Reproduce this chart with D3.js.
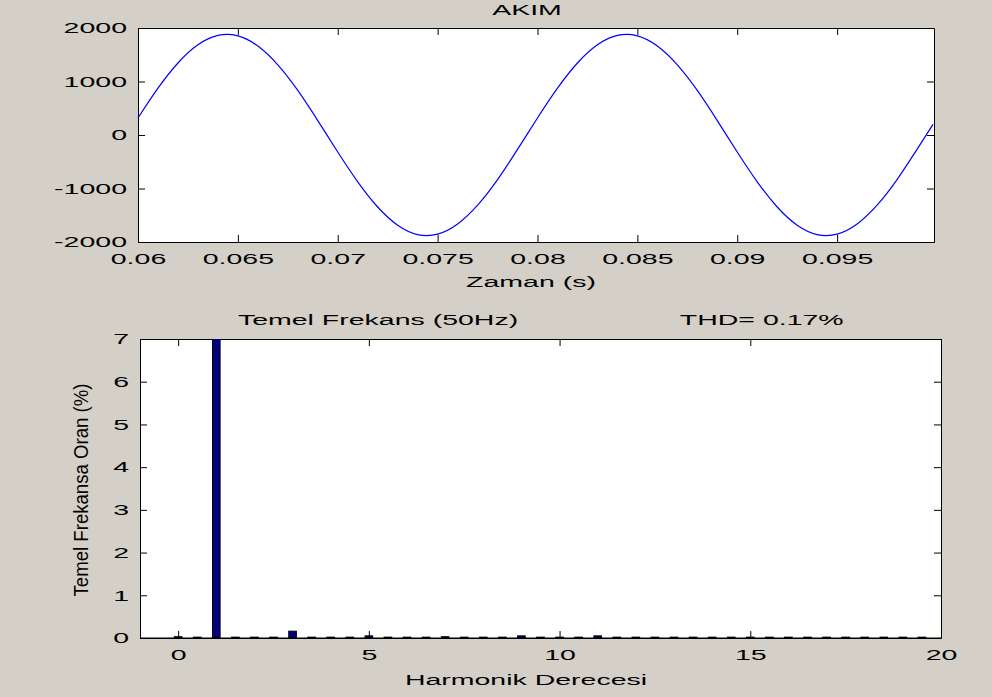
<!DOCTYPE html>
<html>
<head>
<meta charset="utf-8">
<script src="https://d3js.org/d3.v7.min.js"></script>
<style>
  body { margin: 0; background: #d4d0c8; }
  svg { display: block; }
  text { font-family: "Liberation Sans", Arial, sans-serif; font-size: 15px; fill: #000; }
  .axis path, .axis line { stroke: #000; }
</style>
</head>
<body>
<svg width="992" height="697"></svg>
<script>
// AKIM waveform, values (1 ms steps)
var timeS = [0.060, 0.061, 0.062, 0.063, 0.064, 0.065, 0.066, 0.067, 0.068, 0.069,
             0.070, 0.071, 0.072, 0.073, 0.074, 0.075, 0.076, 0.077, 0.078, 0.079,
             0.080, 0.081, 0.082, 0.083, 0.084, 0.085, 0.086, 0.087, 0.088, 0.089,
             0.090, 0.091, 0.092, 0.093, 0.094, 0.095, 0.096, 0.097, 0.098, 0.099, 0.0998];
var currentA = [318, 875, 1346, 1686, 1861, 1853, 1664, 1312, 833, 270,
                -318, -875, -1346, -1686, -1861, -1853, -1664, -1312, -833, -270,
                318, 875, 1346, 1686, 1861, 1853, 1664, 1312, 833, 270,
                -318, -875, -1346, -1686, -1861, -1853, -1664, -1312, -833, -270, 200];
var timeTicks = [0.06, 0.065, 0.07, 0.075, 0.08, 0.085, 0.09, 0.095];
var currentTicks = [-2000, -1000, 0, 1000, 2000];

// harmonic spectrum (% of fundamental)
var harmOrder = [0, 0.5, 1, 1.5, 2, 2.5, 3, 3.5, 4, 4.5, 5, 5.5, 6, 6.5, 7, 7.5, 8, 8.5, 9, 9.5,
                 10, 10.5, 11, 11.5, 12, 12.5, 13, 13.5, 14, 14.5, 15, 15.5, 16, 16.5, 17, 17.5, 18, 18.5, 19, 19.5];
var harmPct = [0.03, 0.02, 100, 0.02, 0.02, 0.02, 0.16, 0.02, 0.02, 0.02, 0.05, 0.02, 0.02, 0.02, 0.03, 0.02, 0.02, 0.02, 0.05, 0.02,
               0.02, 0.02, 0.05, 0.02, 0.02, 0.02, 0.02, 0.02, 0.02, 0.02, 0.02, 0.02, 0.02, 0.02, 0.02, 0.02, 0.02, 0.02, 0.02, 0.02];
var harmTicks = [0, 5, 10, 15, 20];
var pctTicks = [0, 1, 2, 3, 4, 5, 6, 7];

var SX = 1.9; // text is drawn wide in the original
var plainFmt = function(d) { return String(d); }; // keeps an ascii hyphen for negatives

var svg = d3.select("svg");

function wideText(sel, x, y, str, anchor) {
  return sel.append("text")
    .attr("transform", "translate(" + x + "," + y + ") scale(" + SX + ",1)")
    .attr("text-anchor", anchor || "middle")
    .text(str);
}

// draws a boxed matlab-like axes with inward ticks
function boxAxes(g, x, y, xt, yt) {
  var x0 = x.range()[0], x1 = x.range()[1], y0 = y.range()[0], y1 = y.range()[1];
  g.append("rect").attr("x", x0).attr("y", y1).attr("width", x1 - x0).attr("height", y0 - y1)
    .attr("fill", "#fff");

  var bottom = g.append("g").attr("class", "axis").attr("transform", "translate(0," + y0 + ")")
    .call(d3.axisBottom(x).tickValues(xt).tickSizeInner(-7).tickSizeOuter(0).tickFormat(plainFmt));
  bottom.selectAll("text").attr("y", null).attr("dy", null)
    .attr("transform", "translate(0,22) scale(" + SX + ",1)");
  g.append("g").attr("class", "axis").attr("transform", "translate(0," + y1 + ")")
    .call(d3.axisTop(x).tickValues(xt).tickSizeInner(-7).tickSizeOuter(0).tickFormat(""));

  var left = g.append("g").attr("class", "axis").attr("transform", "translate(" + x0 + ",0)")
    .call(d3.axisLeft(y).tickValues(yt).tickSizeInner(-7).tickSizeOuter(0).tickFormat(plainFmt));
  left.selectAll("text").attr("x", null)
    .attr("transform", "translate(-11,0) scale(" + SX + ",1)");
  g.append("g").attr("class", "axis").attr("transform", "translate(" + x1 + ",0)")
    .call(d3.axisRight(y).tickValues(yt).tickSizeInner(-7).tickSizeOuter(0).tickFormat(""));
  g.selectAll(".axis text").style("font-size", "15px").style("font-family", "'Liberation Sans', Arial, sans-serif");
}

// ---- top: AKIM ----
var xT = d3.scaleLinear().domain([0.06, 0.09985]).range([138, 934]);
var yT = d3.scaleLinear().domain([-2000, 2000]).range([242, 28]);
var gTop = svg.append("g");
boxAxes(gTop, xT, yT, timeTicks, currentTicks);

gTop.append("path")
  .datum(timeS.map(function(t, i) { return [t, currentA[i]]; }))
  .attr("fill", "none")
  .attr("stroke", "#0000ff")
  .attr("stroke-width", 1.2)
  .attr("d", d3.line().x(function(d) { return xT(d[0]); }).y(function(d) { return yT(d[1]); }).curve(d3.curveNatural));

wideText(gTop, 527, 15, "AKIM");
wideText(gTop, 531, 287, "Zaman (s)");

// ---- bottom: harmonic spectrum ----
var xB = d3.scaleLinear().domain([-1, 20]).range([140, 941]);
var yB = d3.scaleLinear().domain([0, 7]).range([638, 339]);
var gBot = svg.append("g");

gBot.append("clipPath").attr("id", "clipB").append("rect")
  .attr("x", 140).attr("y", 339).attr("width", 801).attr("height", 299);

boxAxes(gBot, xB, yB, harmTicks, pctTicks);

var bw = xB(0.2) - xB(0);
gBot.append("g").attr("clip-path", "url(#clipB)")
  .selectAll("rect")
  .data(harmOrder)
  .join("rect")
    .attr("x", function(d) { return xB(d) - bw / 2; })
    .attr("width", bw)
    .attr("y", function(d, i) { return yB(harmPct[i]); })
    .attr("height", function(d, i) { return yB(0) - yB(harmPct[i]); })
    .attr("fill", "#000080")
    .attr("stroke", "#000")
    .attr("stroke-width", 1);

// redraw the bottom line over the bars
gBot.append("line").attr("x1", 140).attr("x2", 941).attr("y1", 638).attr("y2", 638).attr("stroke", "#000");

wideText(gBot, xB(5.24), 325, "Temel Frekans (50Hz)");
wideText(gBot, xB(15.3), 325, "THD= 0.17%");
wideText(gBot, 526, 685, "Harmonik Derecesi");

gBot.append("text")
  .attr("transform", "translate(88,490) rotate(-90) scale(1.24,1.4)")
  .attr("text-anchor", "middle")
  .text("Temel Frekansa Oran (%)");
</script>
</body>
</html>
